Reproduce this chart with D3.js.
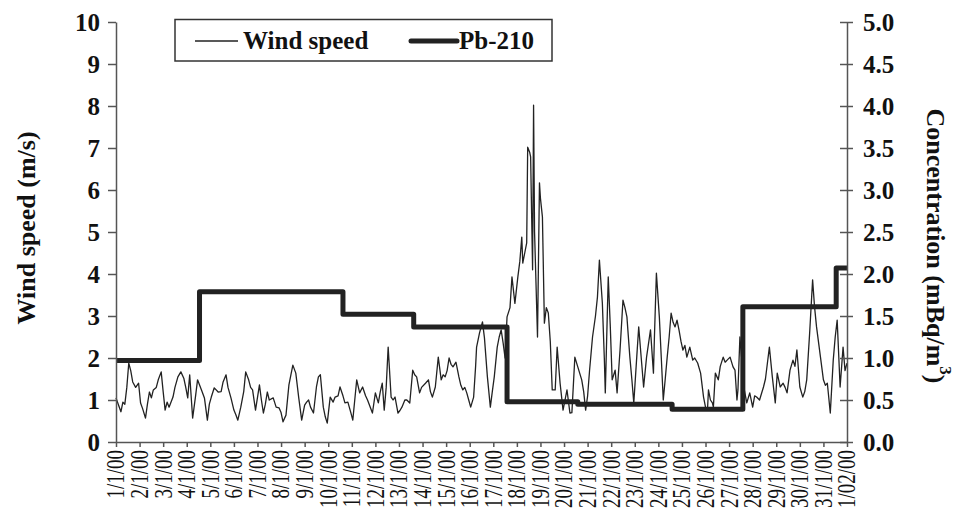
<!DOCTYPE html>
<html><head><meta charset="utf-8">
<script src="https://cdn.jsdelivr.net/npm/d3@7/dist/d3.min.js"></script>
<style>body{margin:0;background:#fff}svg{display:block}</style>
</head><body><svg id="c" width="954" height="512"></svg>
<script>
// ---- data ----
const dateLabels = ["1/1/00","2/1/00","3/1/00","4/1/00","5/1/00","6/1/00","7/1/00","8/1/00","9/1/00","10/1/00","11/1/00","12/1/00","13/1/00","14/1/00","15/1/00","16/1/00","17/1/00","18/1/00","19/1/00","20/1/00","21/1/00","22/1/00","23/1/00","24/1/00","25/1/00","26/1/00","27/1/00","28/1/00","29/1/00","30/1/00","31/1/00","1/02/00"];
const windTicks = [0,1,2,3,4,5,6,7,8,9,10];
const concTicks = [0,0.5,1,1.5,2,2.5,3,3.5,4,4.5,5];
// wind speed (m/s) : hours since 1/1/00 00:00
const windHours = [0,3,5,7,9,11,13,15,17,20,23,25,27,30,32,34,36,38,41,43,46,48,50,52,54,58,60,63,66,69,71,73,75,78,81,83,87,90,93,95,97,100,104,107,109,112,114,117,120,122,124,127,130,132,135,137,139,142,146,148,150,152,154,156,160,163,166,168,170,173,176,178,180,183,186,189,192,194,196,198,201,204,206,208,211,213,215,218,221,223,226,228,231,233,236,239,241,243,245,248,251,254,256,261,264,267,269,271,273,275,277,280,282,284,287,289,291,294,296,299,302,304,306,309,311,315,318,320,322,325,328,331,333,335,337,339,341,343,346,349,351,353,355,357,359,361,364,366,367,370,373,375,378,381,383,385,388,390,392,394,396,398,401,403,406,409,411,413,414,416,418,419,421,422,424,425,426,429,431,432,434,436,438,440,442,444,447,449,452,455,457,459,462,464,467,470,474,476,478,480,482,485,488,490,492,495,497,498,501,503,505,508,510,513,516,518,520,523,525,527,530,532,535,537,540,544,547,548,550,553,555,557,559,561,563,565,567,569,571,573,575,577,579,581,584,587,589,592,595,598,600,602,603,605,607,608,610,613,615,618,620,622,625,628,630,632,633,635,637,639,642,645,648,650,652,655,659,661,663,665,668,671,673,676,679,681,683,686,689,691,693,696,699,701,703,706,709,711,713,717,720,722,724,727,730,732,734,737,740,742,744];
const windSpeed = [1.05,0.85,0.72,0.95,0.9,1.3,1.88,1.7,1.43,1.3,1.4,0.93,0.8,0.57,0.9,1.19,1.05,1.24,1.3,1.48,1.67,1.2,0.76,0.95,0.83,1.07,1.3,1.55,1.67,1.52,1.3,1.05,1.6,0.57,1.1,1.48,1.24,1.05,0.52,0.9,1.07,1.29,1.19,1.2,1.43,1.6,1.3,1.05,0.76,0.65,0.52,0.83,1.2,1.67,1.48,1.3,1.24,0.76,1.36,1.0,0.69,0.9,1.19,1.0,1.05,0.83,0.81,0.7,0.48,0.64,1.36,1.6,1.83,1.64,1.05,0.52,0.88,0.95,1.0,0.83,0.69,1.31,1.55,1.6,0.83,0.6,0.45,1.07,0.95,1.07,1.1,1.31,1.1,0.93,0.95,0.7,0.52,1.0,1.48,1.17,1.31,1.1,1.0,0.69,1.17,0.93,1.2,1.4,0.76,1.3,2.26,1.07,1.0,1.07,0.69,0.75,0.83,1.0,1.0,0.93,1.71,1.6,1.55,1.17,1.3,1.4,1.48,1.2,1.07,1.31,2.02,1.48,1.6,1.55,1.7,2.0,1.85,1.79,1.9,1.55,1.35,1.24,1.3,1.17,1.0,0.83,1.07,1.8,2.26,2.6,2.86,2.48,1.55,0.83,1.2,1.55,2.26,2.5,2.67,2.36,2.0,2.98,3.2,3.93,3.3,3.93,4.3,4.88,4.26,4.5,4.74,7.02,6.9,6.79,4.1,8.02,5.0,2.5,6.17,5.8,5.36,2.83,3.2,3.07,2.4,1.24,1.24,2.26,1.4,0.76,1.0,1.24,0.69,0.7,2.02,1.79,1.48,1.2,0.76,1.1,1.71,2.5,3.0,3.45,4.33,3.31,2.0,1.17,3.93,2.8,1.48,1.71,1.17,2.19,3.38,3.2,2.98,2.02,1.5,0.93,2.02,2.74,1.88,1.31,2.02,2.67,1.64,2.5,4.02,2.98,2.0,1.0,1.5,2.02,2.5,3.07,2.85,2.74,2.9,2.67,2.4,2.19,2.3,2.02,2.26,1.95,2.0,1.88,1.64,1.07,0.83,0.76,1.24,1.0,0.93,0.83,1.64,1.48,1.8,2.02,1.9,1.95,2.02,1.79,1.71,1.0,1.24,2.5,1.95,1.3,0.93,1.17,0.83,1.1,1.07,1.0,1.31,1.5,1.88,2.26,1.55,0.93,1.64,1.31,1.4,1.3,1.17,1.71,1.95,1.8,2.19,1.31,1.07,1.2,1.48,2.6,3.86,3.21,2.74,2.02,1.48,1.35,1.4,0.69,1.95,2.5,2.9,1.31,2.26,1.7,1.88];
// Pb-210 concentration (mBq/m3): sample start hours and values
const pbStartHours = [0,85,231,303,398,470,566,638,733];
const pbConc = [0.97,1.79,1.52,1.37,0.48,0.45,0.39,1.61,2.07];
const endHour = 744;

// ---- layout ----
const L = 116, R = 847, T = 22, B = 442;
const FONT = "'Liberation Serif','Times New Roman',serif";
const svg = d3.select("#c");
const x = d3.scaleLinear().domain([0, endHour]).range([L, R]);
const yW = d3.scaleLinear().domain([0, 10]).range([B, T]);
const yC = d3.scaleLinear().domain([0, 5]).range([B, T]);

// wind line
const wind = windHours.map((h, i) => ({h, v: windSpeed[i]}));
svg.append("path").datum(wind)
  .attr("fill", "none").attr("stroke", "#222").attr("stroke-width", 1.3)
  .attr("stroke-linejoin", "round")
  .attr("d", d3.line().x(d => x(d.h)).y(d => yW(d.v)));

// Pb-210 step line
const pb = pbStartHours.map((h, i) => ({h, v: pbConc[i]}));
pb.push({h: endHour, v: pbConc[pbConc.length - 1]});
svg.append("path").datum(pb)
  .attr("fill", "none").attr("stroke", "#222").attr("stroke-width", 5)
  .attr("stroke-linejoin", "round")
  .attr("d", d3.line().curve(d3.curveStepAfter).x(d => x(d.h)).y(d => yC(d.v)));

// axes
const axisColor = "#555";
const gL = svg.append("g").attr("transform", `translate(${L},0)`)
  .call(d3.axisLeft(yW).tickValues(windTicks).tickSize(8).tickSizeOuter(0).tickPadding(8).tickFormat(d3.format("d")));
const gR = svg.append("g").attr("transform", `translate(${R},0)`)
  .call(d3.axisRight(yC).tickValues(concTicks).tickSize(6).tickSizeOuter(0).tickPadding(10).tickFormat(d3.format(".1f")));
gR.selectAll(".tick line").attr("x1", -7);
const gB = svg.append("g").attr("transform", `translate(0,${B})`)
  .call(d3.axisBottom(x).tickValues(dateLabels.map((d, i) => i * 24)).tickSize(5).tickSizeOuter(0)
    .tickFormat((d, i) => dateLabels[i]));
[gL, gR, gB].forEach(g => {
  g.select(".domain").attr("stroke", axisColor).attr("stroke-width", 1.5);
  g.selectAll(".tick line").attr("stroke", axisColor).attr("stroke-width", 1.5);
});
[gL, gR].forEach(g => g.selectAll(".tick text")
  .attr("font-family", FONT).attr("font-size", 25).attr("font-weight", "bold").attr("fill", "#111"));
gB.selectAll(".tick text")
  .attr("transform", "rotate(-90) scale(1,1.3)").attr("x", -8).attr("y", 0).attr("dy", "0.32em")
  .attr("text-anchor", "end")
  .attr("font-family", FONT).attr("font-size", 19).attr("fill", "#111");

// axis titles
svg.append("text").attr("transform", "translate(26,228) rotate(-90)")
  .attr("text-anchor", "middle").attr("dominant-baseline", "central")
  .attr("font-family", FONT).attr("font-size", 26).attr("font-weight", "bold").attr("fill", "#111")
  .text("Wind speed (m/s)");
const rt = svg.append("text").attr("transform", "translate(936,246) rotate(90)")
  .attr("text-anchor", "middle").attr("dominant-baseline", "central")
  .attr("font-family", FONT).attr("font-size", 26).attr("font-weight", "bold").attr("fill", "#111");
rt.append("tspan").text("Concentration (mBq/m");
rt.append("tspan").attr("font-size", 17).attr("dy", -10).text("3");
rt.append("tspan").attr("dy", 10).text(")");

// legend
const lg = svg.append("g");
lg.append("rect").attr("x", 175).attr("y", 19.5).attr("width", 377).attr("height", 41.5)
  .attr("fill", "#fff").attr("stroke", "#333").attr("stroke-width", 1.5);
lg.append("line").attr("x1", 195).attr("x2", 238).attr("y1", 41).attr("y2", 41)
  .attr("stroke", "#222").attr("stroke-width", 1.3);
lg.append("text").attr("x", 243).attr("y", 49)
  .attr("font-family", FONT).attr("font-size", 25).attr("font-weight", "bold").attr("fill", "#111")
  .text("Wind speed");
lg.append("line").attr("x1", 411).attr("x2", 457).attr("y1", 41).attr("y2", 41)
  .attr("stroke", "#222").attr("stroke-width", 5).attr("stroke-linecap", "round");
lg.append("text").attr("x", 459).attr("y", 49)
  .attr("font-family", FONT).attr("font-size", 25).attr("font-weight", "bold").attr("fill", "#111")
  .text("Pb-210");
</script></body></html>
